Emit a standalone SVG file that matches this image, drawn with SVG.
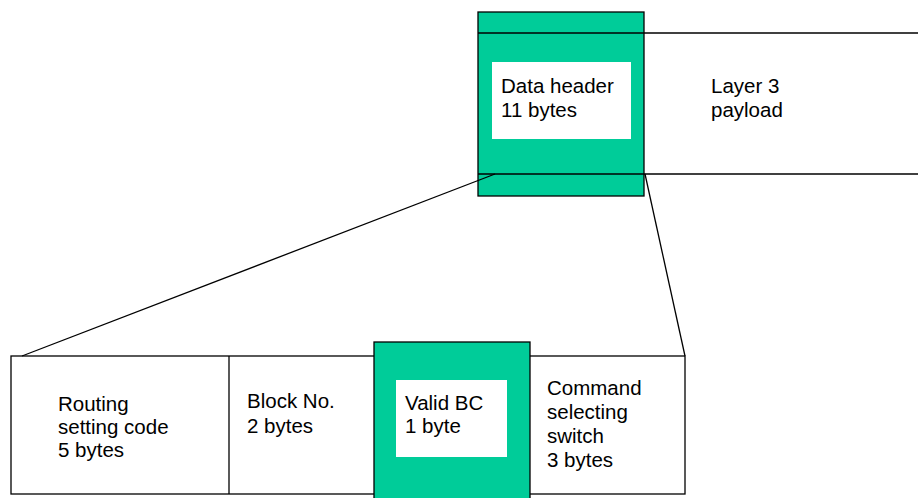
<svg xmlns="http://www.w3.org/2000/svg" width="918" height="498" viewBox="0 0 918 498">
<style>
.ln{stroke:#000;stroke-width:1.3;fill:none}
.grn{fill:#00CC99;stroke:#000;stroke-width:1.3}
.wb{fill:#fff;stroke:none}
.box{fill:#fff;stroke:#000;stroke-width:1.3}
text{font-family:"Liberation Sans",Arial,sans-serif;font-size:20.5px;fill:#000}
</style>
<rect width="918" height="498" fill="#fff"/>
<g id="bottom-frame">
<rect class="box" x="11" y="356" width="674" height="138"/>
<line class="ln" x1="229" y1="356" x2="229" y2="494"/>
</g>
<g id="data-header">
<rect class="grn" x="478" y="12" width="166" height="184"/>
<rect class="wb" x="492" y="62" width="139" height="77"/>
<text x="501" y="93">Data header</text>
<text x="501" y="117">11 bytes</text>
</g>
<g id="layer3-payload">
<line class="ln" x1="478" y1="33" x2="918" y2="33"/>
<line class="ln" x1="478" y1="174" x2="918" y2="174"/>
<text x="711" y="93">Layer 3</text>
<text x="711" y="117">payload</text>
</g>
<g id="routing">
<text x="58" y="411">Routing</text>
<text x="58" y="434">setting code</text>
<text x="58" y="457">5 bytes</text>
</g>
<g id="block-no">
<text x="247" y="408">Block No.</text>
<text x="247" y="433">2 bytes</text>
</g>
<g id="valid-bc">
<rect class="grn" x="374" y="342" width="156" height="160"/>
<rect class="wb" x="396" y="380" width="111" height="77"/>
<text x="405" y="410">Valid BC</text>
<text x="405" y="433">1 byte</text>
</g>
<g id="command">
<text x="547" y="395">Command</text>
<text x="547" y="419">selecting</text>
<text x="547" y="443">switch</text>
<text x="547" y="467">3 bytes</text>
</g>
<g id="connectors">
<line class="ln" x1="22" y1="356" x2="495" y2="174"/>
<line class="ln" x1="645" y1="174" x2="685" y2="356"/>
</g>
</svg>
